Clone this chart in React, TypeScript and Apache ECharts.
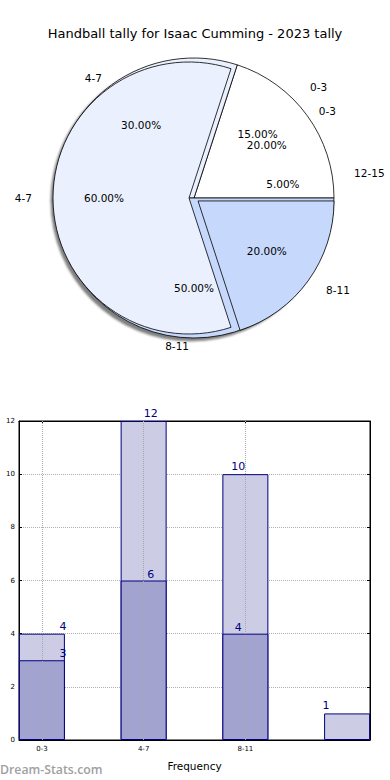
import React, { useEffect, useRef } from "react";
import * as echarts from "echarts";

const titleText = "Handball tally for Isaac Cumming - 2023 tally";
const watermarkText = "Dream-Stats.com";

// Back pie
const outerNames = ["0-3", "4-7", "8-11"];
const outerValues = [20, 30, 50];
// Front pie
const innerNames = ["0-3", "4-7", "8-11", "12-15"];
const innerValues = [15, 60, 20, 5];

// Bar chart
const barCategories = ["0-3", "4-7", "8-11", "12-15"];
const totalValues = [4, 12, 10, 1];
const partValues = [3, 6, 4];
const xTickIndices = [0, 1, 2];
const yMin = 0;
const yMax = 12;
const yStep = 2;
const xAxisName = "Frequency";

const outerColors = ["#ffffff", "#eaf0fd", "#c6d9fc"];
// the front pie's 0-3 and 12-15 wedges are not visible in the reference
const innerColors = ["transparent", "#eaf0fd", "#c6d9fc", "transparent"];
const innerBorders = [0, 0.8, 0.8, 0];
const LABEL_DX = [21, 7, -7, -21];
const FONT = "DejaVu Sans";

export default function App() {
  const ref = useRef<HTMLDivElement>(null);
  useEffect(() => {
    if (!ref.current) return;
    const chart = echarts.init(ref.current, null, { renderer: "svg" });
    const center = [194, 198];
    const pct = (p: any) => Number(p.percent).toFixed(2) + "%";
    const edge = { borderColor: "#000", borderWidth: 0.8 };
    const xMin = -0.225;
    const xMax = 3.225;
    const tickStyle = { show: true, inside: true, length: 3, lineStyle: { color: "#000" } };

    const option: any = {
      animation: false,
      textStyle: { fontFamily: FONT },
      title: {
        text: titleText,
        left: "center",
        top: 22,
        textStyle: { fontFamily: FONT, fontSize: 13, fontWeight: "normal", color: "#000" },
      },
      graphic: [
        {
          type: "text",
          left: 0,
          top: 763,
          style: { text: watermarkText, fill: "#a0a0a0", font: `600 12.3px "Open Sans"` },
        },
      ],
      grid: {
        left: 19,
        right: 20,
        top: 421,
        bottom: 40,
        show: true,
        borderColor: "#000",
        borderWidth: 1,
        backgroundColor: "transparent",
      },
      xAxis: [
        {
          type: "value",
          min: xMin,
          max: xMax,
          name: xAxisName,
          nameLocation: "middle",
          nameGap: 20,
          nameTextStyle: { fontFamily: FONT, fontSize: 10.5, color: "#000" },
          axisLine: { show: true, onZero: false, lineStyle: { color: "#000" } },
          axisTick: { ...tickStyle, customValues: xTickIndices },
          axisLabel: {
            customValues: xTickIndices,
            fontSize: 7,
            color: "#000",
            margin: 5,
            formatter: (v: number) => barCategories[Math.round(v)] ?? "",
          },
          splitLine: { show: false },
        },
        {
          type: "value",
          position: "top",
          min: xMin,
          max: xMax,
          axisLine: { show: true, onZero: false, lineStyle: { color: "#000" } },
          axisTick: { ...tickStyle, customValues: xTickIndices },
          axisLabel: { show: false },
          splitLine: { show: false },
        },
      ],
      yAxis: [
        {
          type: "value",
          min: yMin,
          max: yMax,
          interval: yStep,
          axisLine: { show: true, onZero: false, lineStyle: { color: "#000" } },
          axisTick: tickStyle,
          axisLabel: { fontSize: 7, color: "#000", margin: 4 },
          splitLine: { show: true, lineStyle: { type: "dotted", color: "#b0b0b0", width: 1 } },
        },
        {
          type: "value",
          position: "right",
          min: yMin,
          max: yMax,
          interval: yStep,
          axisLine: { show: true, onZero: false, lineStyle: { color: "#000" } },
          axisTick: tickStyle,
          axisLabel: { show: false },
          splitLine: { show: false },
        },
      ],
      series: [
        {
          type: "pie",
          center,
          radius: 140,
          startAngle: 0,
          clockwise: false,
          avoidLabelOverlap: false,
          silent: true,
          z: 2,
          data: outerNames.map((n, i) => ({ name: n, value: outerValues[i], itemStyle: { color: outerColors[i] } })),
          itemStyle: {
            ...edge,
            shadowBlur: 2,
            shadowColor: "rgba(0,0,0,0.5)",
            shadowOffsetX: -3,
            shadowOffsetY: 3,
          },
          label: { show: true, position: "outside", fontSize: 10.5, color: "#000", formatter: "{b}" },
          labelLine: { show: false, length: 8, length2: 0 },
          labelLayout: { hideOverlap: false },
        },
        {
          type: "pie",
          center,
          radius: 136,
          startAngle: 18,
          clockwise: false,
          avoidLabelOverlap: false,
          selectedMode: "multiple",
          selectedOffset: 5,
          silent: true,
          z: 2,
          data: innerNames.map((n, i) => ({
            name: n,
            value: innerValues[i],
            selected: true,
            itemStyle: { color: innerColors[i], borderColor: "#000", borderWidth: innerBorders[i] },
            select: { itemStyle: { color: innerColors[i], borderColor: "#000", borderWidth: innerBorders[i] } },
          })),
          label: { show: true, position: "outside", fontSize: 10.5, color: "#000", formatter: "{b}" },
          labelLine: { show: false, length: 16, length2: 0 },
          labelLayout: { hideOverlap: false },
        },
        {
          type: "pie",
          center,
          radius: 174,
          startAngle: 0,
          clockwise: false,
          silent: true,
          z: 3,
          data: outerNames.map((n, i) => ({ name: n, value: outerValues[i] })),
          itemStyle: { color: "transparent", borderWidth: 0 },
          label: { show: true, position: "inside", fontSize: 10.5, color: "#000", formatter: pct },
          labelLine: { show: false },
          labelLayout: { hideOverlap: false },
        },
        {
          type: "pie",
          center,
          radius: 174,
          startAngle: 18,
          clockwise: false,
          silent: true,
          z: 4,
          data: innerNames.map((n, i) => ({ name: n, value: innerValues[i] })),
          itemStyle: { color: "transparent", borderWidth: 0 },
          label: { show: true, position: "inside", fontSize: 10.5, color: "#000", formatter: pct },
          labelLine: { show: false },
          labelLayout: { hideOverlap: false },
        },
        {
          type: "bar",
          xAxisIndex: 0,
          yAxisIndex: 0,
          barWidth: 46,
          barGap: "-100%",
          silent: true,
          data: totalValues.map((v, i) => ({ value: [i, v], label: { offset: [LABEL_DX[i], 0] } })),
          itemStyle: { color: "#cccce5", borderColor: "#000080", borderWidth: 1 },
          label: { show: true, position: "top", distance: 2, fontSize: 11, color: "#000080", formatter: (p: any) => String(p.value[1]) },
        },
        {
          type: "bar",
          xAxisIndex: 0,
          yAxisIndex: 0,
          barWidth: 46,
          barGap: "-100%",
          silent: true,
          data: partValues.map((v, i) => ({ value: [i, v], label: { offset: [LABEL_DX[i], 0] } })),
          itemStyle: { color: "#a3a3d0", borderColor: "#000080", borderWidth: 1 },
          label: { show: true, position: "top", distance: 1, fontSize: 11, color: "#000080", formatter: (p: any) => String(p.value[1]) },
          markLine: {
            silent: true,
            symbol: "none",
            label: { show: false },
            lineStyle: { type: "dotted", color: "#a8a8a8", width: 1 },
            data: xTickIndices.map((v) => ({ xAxis: v })),
          },
        },
      ],
    };
    chart.setOption(option);
    return () => chart.dispose();
  }, []);
  return <div ref={ref} style={{ position: "absolute", left: 0, top: 0, width: 390, height: 780 }} />;
}
